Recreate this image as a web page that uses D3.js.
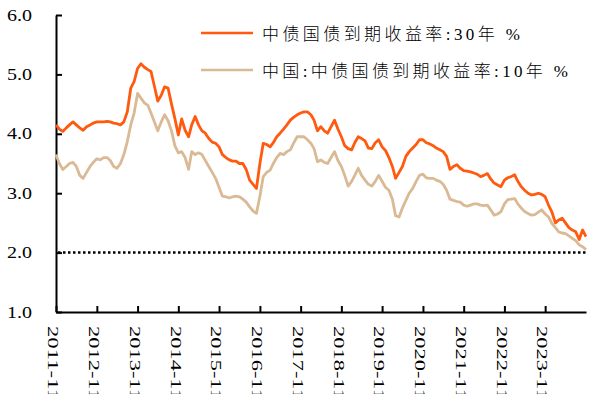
<!DOCTYPE html>
<html>
<head>
<meta charset="utf-8">
<script src="https://cdn.jsdelivr.net/npm/d3@7"></script>
<style>
  body { margin: 0; background: #fff; }
  text { font-family: "Liberation Serif", "Noto Sans CJK SC", serif; fill: #000; }
</style>
</head>
<body>
<div id="chart"></div>
<script>
const width = 590;
const height = 394;

// monthly values, 2011-11 .. 2024-11
const startMonth = new Date(2011, 10, 1);
const yield30 = [
  4.15,4.08,4.04,4.1,4.15,4.2,4.15,4.1,4.06,4.12,4.15,4.18,
  4.2,4.2,4.2,4.21,4.2,4.18,4.17,4.15,4.2,4.37,4.77,4.88,
  5.1,5.18,5.12,5.08,5.05,4.8,4.55,4.65,4.79,4.77,4.5,4.26,
  3.98,4.25,4.06,3.95,4.15,4.29,4.15,4.05,4.01,3.92,3.86,3.84,
  3.78,3.65,3.6,3.56,3.54,3.54,3.5,3.5,3.4,3.22,3.15,3.08,
  3.5,3.84,3.82,3.78,3.85,3.95,4.01,4.08,4.15,4.23,4.28,4.32,
  4.35,4.37,4.37,4.32,4.23,4.05,4.12,4.05,4.01,4.12,4.23,4.08,
  3.95,3.8,3.75,3.73,3.85,3.95,3.92,3.88,3.76,3.75,3.85,3.9,
  3.78,3.72,3.6,3.45,3.25,3.35,3.45,3.62,3.7,3.76,3.82,3.9,
  3.9,3.85,3.83,3.8,3.76,3.73,3.7,3.62,3.4,3.45,3.48,3.42,
  3.38,3.37,3.36,3.34,3.32,3.28,3.3,3.33,3.24,3.17,3.14,3.11,
  3.22,3.26,3.28,3.31,3.2,3.11,3.05,3.0,2.97,2.98,3.0,2.98,
  2.94,2.8,2.68,2.5,2.55,2.58,2.5,2.42,2.38,2.35,2.22,2.38,
  2.27
];
const yield10 = [
  3.65,3.5,3.4,3.45,3.5,3.52,3.45,3.3,3.25,3.35,3.45,3.52,
  3.58,3.56,3.6,3.6,3.55,3.45,3.42,3.5,3.65,3.87,4.15,4.35,
  4.68,4.6,4.52,4.48,4.35,4.2,4.05,4.2,4.32,4.22,4.05,3.8,
  3.68,3.7,3.6,3.4,3.7,3.65,3.68,3.65,3.55,3.45,3.35,3.25,
  3.1,2.95,2.94,2.92,2.94,2.95,2.94,2.9,2.85,2.77,2.7,2.66,
  2.95,3.28,3.35,3.39,3.5,3.6,3.67,3.65,3.7,3.73,3.85,3.95,
  3.95,3.95,3.9,3.84,3.75,3.53,3.56,3.52,3.5,3.6,3.7,3.55,
  3.45,3.3,3.12,3.2,3.3,3.42,3.3,3.22,3.15,3.12,3.2,3.3,
  3.2,3.1,3.05,2.9,2.62,2.6,2.75,2.88,3.0,3.08,3.2,3.3,
  3.32,3.26,3.25,3.25,3.22,3.2,3.15,3.05,2.9,2.88,2.86,2.85,
  2.8,2.78,2.8,2.82,2.82,2.8,2.79,2.8,2.72,2.63,2.65,2.69,
  2.82,2.89,2.9,2.91,2.82,2.75,2.69,2.66,2.63,2.64,2.68,2.72,
  2.65,2.6,2.49,2.42,2.35,2.33,2.32,2.28,2.24,2.2,2.13,2.1,
  2.05
];
const xTickLabels = ["2011-11","2012-11","2013-11","2014-11","2015-11","2016-11","2017-11",
  "2018-11","2019-11","2020-11","2021-11","2022-11","2023-11"];
const yTicks = [1, 2, 3, 4, 5, 6];
const refLevel = 2.0;
const seriesNames = ["中债国债到期收益率:30年 %", "中国:中债国债到期收益率:10年 %"];
const seriesColors = ["#FF5A0E", "#D9BA94"];

const months = yield30.map((v, i) => d3.timeMonth.offset(startMonth, i));
const parseMonth = d3.timeParse("%Y-%m");

const svg = d3.select("#chart")
  .append("svg")
    .attr("width", width)
    .attr("height", height);

const x = d3.scaleTime()
  .domain([startMonth, months[months.length - 1]])
  .range([56, 586]);

const y = d3.scaleLinear()
  .domain([1, 6])
  .range([312, 15]);

// y axis
const yAxis = svg.append("g")
  .attr("transform", "translate(56,0)")
  .call(d3.axisLeft(y).tickValues(yTicks).tickSizeInner(-6).tickSizeOuter(0)
    .tickPadding(24).tickFormat(d3.format(".1f")));
yAxis.select(".domain").attr("stroke-width", 2);
yAxis.selectAll(".tick line").attr("stroke-width", 2);
yAxis.selectAll(".tick text")
  .attr("font-size", 16)
  .attr("textLength", 25)
  .attr("lengthAdjust", "spacingAndGlyphs");

// x axis
const xAxis = svg.append("g")
  .attr("transform", "translate(0,312)")
  .call(d3.axisBottom(x).tickValues(xTickLabels.map(parseMonth))
    .tickSizeInner(-6).tickSizeOuter(0));
xAxis.select(".domain").attr("stroke-width", 2);
xAxis.selectAll(".tick line").attr("stroke-width", 2);
xAxis.selectAll(".tick text")
  .text((d, i) => xTickLabels[i])
  .attr("font-size", 15)
  .attr("transform", "rotate(90)")
  .attr("text-anchor", "start")
  .attr("x", 14)
  .attr("y", 0)
  .attr("dy", "0.55em")
  .attr("textLength", 74)
  .attr("lengthAdjust", "spacingAndGlyphs");

// 2.0 reference line
svg.append("line")
  .attr("x1", 58).attr("x2", 587)
  .attr("y1", y(refLevel)).attr("y2", y(refLevel))
  .attr("stroke", "#000")
  .attr("stroke-width", 2.5)
  .attr("stroke-dasharray", "2.5,2.5");

const line = d3.line()
  .x((d, i) => x(months[i]))
  .y(d => y(d));

[yield30, yield10].forEach((vals, k) => {
  svg.append("path")
    .datum(vals)
    .attr("fill", "none")
    .attr("stroke", seriesColors[k])
    .attr("stroke-width", 2.8)
    .attr("stroke-linejoin", "round")
    .attr("d", line);
});

// legend
const legendY = [33, 70];
const legendLen = [258, 306];
seriesNames.forEach((name, k) => {
  svg.append("line")
    .attr("x1", 201).attr("x2", 253)
    .attr("y1", legendY[k]).attr("y2", legendY[k])
    .attr("stroke", seriesColors[k])
    .attr("stroke-width", 2.5);
  svg.append("text")
    .attr("x", 262)
    .attr("y", legendY[k] + 6.5)
    .attr("font-size", 17)
    .attr("font-weight", 300)
    .attr("textLength", legendLen[k])
    .attr("lengthAdjust", "spacing")
    .text(name);
});
</script>
</body>
</html>
